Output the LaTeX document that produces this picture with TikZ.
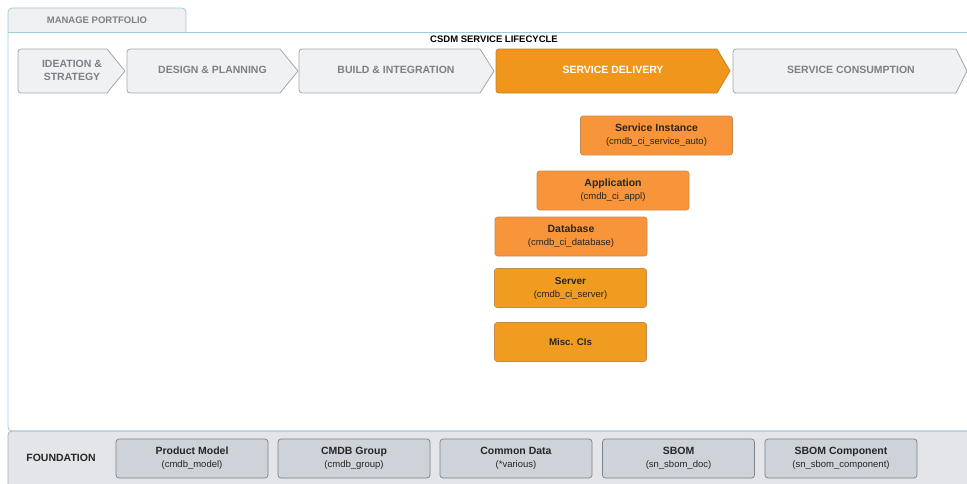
\documentclass[tikz,border=0pt]{standalone}
\usepackage{fontspec}
\setmainfont{Liberation Sans}
\definecolor{frameblue}{HTML}{9DCBDA}
\definecolor{tabfill}{HTML}{EEF0F2}
\definecolor{chevfill}{HTML}{EFF1F3}
\definecolor{chevline}{HTML}{A3A7AC}
\definecolor{chevtext}{HTML}{7B8188}
\definecolor{activefill}{HTML}{F1961C}
\definecolor{activeline}{HTML}{C9801E}
\definecolor{ciwarm}{HTML}{F8953A}
\definecolor{cigold}{HTML}{F09C20}
\definecolor{ciline}{HTML}{C48A4E}
\definecolor{bandfill}{HTML}{E3E5E8}
\definecolor{bandline}{HTML}{A7ACB2}
\definecolor{basefill}{HTML}{CED3DA}
\definecolor{baseline}{HTML}{7C828A}
\begin{document}
\begin{tikzpicture}[x=1pt,y=-1pt,
  phase/.style={draw=chevline, fill=chevfill, line width=0.8pt, line join=round},
  activephase/.style={draw=activeline, fill=activefill, line width=0.8pt, line join=round},
  phasetext/.style={font=\bfseries\fontsize{10.5}{13}\selectfont, text=chevtext, align=center, inner sep=0pt},
  headtext/.style={font=\bfseries\fontsize{9.5}{11}\selectfont, inner sep=0pt},
  cibox/.style={draw=ciline, line width=0.6pt, rounded corners=2.5pt, minimum width=152pt, minimum height=39pt, align=center, inner sep=0pt, font=\fontsize{9.5}{13}\selectfont, text=black!85},
  basebox/.style={draw=baseline, fill=basefill, line width=0.7pt, rounded corners=3pt, minimum width=152pt, minimum height=39pt, align=center, inner sep=0pt, font=\fontsize{9.5}{13}\selectfont, text=black!85},
  ttl/.style={font=\bfseries\fontsize{10.5}{13}\selectfont}
]
\useasboundingbox (0,0) rectangle (967,483);

% foundation band
\fill[bandfill, rounded corners=4pt] (8,431) rectangle (990,500);
\draw[bandline, line width=0.7pt, rounded corners=4pt]
  (990,431) -- (8,431) -- (8,500);

% portfolio tab
\draw[frameblue, fill=tabfill, line width=0.8pt, rounded corners=4pt]
  (8,32) -- (8,8) -- (186,8) -- (186,32);
\node[headtext, text=chevtext] (tab) at (97,20.5) {MANAGE PORTFOLIO};

% lifecycle frame
\draw[frameblue, line width=0.8pt] (990,32) -- (8,32);
\draw[frameblue, line width=0.8pt, rounded corners=4pt] (8,32) -- (8,431) -- (990,431);
\node[headtext] (life) at (494,39.5) {CSDM SERVICE LIFECYCLE};

% lifecycle phases
\draw[phase] (125,71) -- (107,49) [rounded corners=3pt] -- (18,49) -- (18,93) [sharp corners] -- (107,93) -- cycle;
\node[phasetext] (p1) at (72,70) {IDEATION \&\\STRATEGY};

\draw[phase] (298,71) -- (280,49) [rounded corners=3pt] -- (127,49) -- (127,93) [sharp corners] -- (280,93) -- cycle;
\node[phasetext] (p2) at (212.5,70) {DESIGN \& PLANNING};

\draw[phase] (494,71) -- (480,49) [rounded corners=3pt] -- (299,49) -- (299,93) [sharp corners] -- (480,93) -- cycle;
\node[phasetext] (p3) at (396,70) {BUILD \& INTEGRATION};

\draw[activephase] (730,71) -- (717,49) [rounded corners=3pt] -- (496,49) -- (496,93) [sharp corners] -- (717,93) -- cycle;
\node[phasetext, text=white] (p4) at (613,70) {SERVICE DELIVERY};

\draw[phase] (967,71) -- (956,49) [rounded corners=3pt] -- (733,49) -- (733,93) [sharp corners] -- (956,93) -- cycle;
\node[phasetext] (p5) at (851,70) {SERVICE CONSUMPTION};

% configuration items
\node[cibox, fill=ciwarm] (inst) at (656.5,135.5) {{\bfseries\fontsize{10.5}{13}\selectfont Service Instance}\\(cmdb\_ci\_service\_auto)};
\node[cibox, fill=ciwarm] (appl) at (613,190.5) {{\bfseries\fontsize{10.5}{13}\selectfont Application}\\(cmdb\_ci\_appl)};
\node[cibox, fill=ciwarm] (db) at (571,236.5) {{\bfseries\fontsize{10.5}{13}\selectfont Database}\\(cmdb\_ci\_database)};
\node[cibox, fill=cigold] (srv) at (570.5,288) {{\bfseries\fontsize{10}{13}\selectfont Server}\\(cmdb\_ci\_server)};
\node[cibox, fill=cigold, font=\bfseries\fontsize{9.7}{13}\selectfont] (misc) at (570.5,342) {Misc. CIs};

% foundation records
\node[ttl, text=black!85] (found) at (61,457.5) {FOUNDATION};
\node[basebox] (model) at (192,458.5) {{\bfseries\fontsize{10.5}{13}\selectfont Product Model}\\(cmdb\_model)};
\node[basebox] (group) at (354,458.5) {{\bfseries\fontsize{10.5}{13}\selectfont CMDB Group}\\(cmdb\_group)};
\node[basebox] (common) at (516,458.5) {{\bfseries\fontsize{10.5}{13}\selectfont Common Data}\\(*various)};
\node[basebox] (sbom) at (678.5,458.5) {{\bfseries\fontsize{10.5}{13}\selectfont SBOM}\\(sn\_sbom\_doc)};
\node[basebox] (sbomc) at (841,458.5) {{\bfseries\fontsize{10.5}{13}\selectfont SBOM Component}\\(sn\_sbom\_component)};
\end{tikzpicture}
\end{document}
